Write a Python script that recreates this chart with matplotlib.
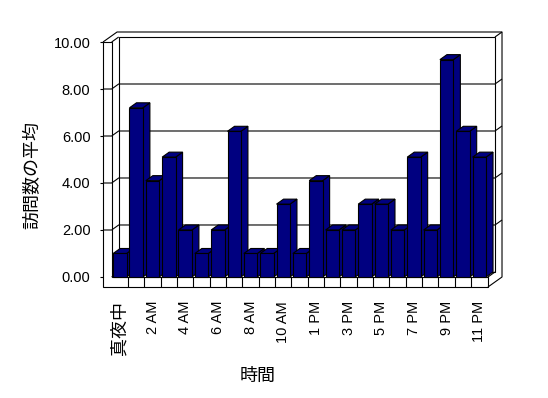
import matplotlib
matplotlib.use('Agg')
import matplotlib.pyplot as plt
from matplotlib.patches import Polygon
from matplotlib.ticker import FixedLocator
import numpy as np

# ---- data ----
hours = ['真夜中', '1 AM', '2 AM', '3 AM', '4 AM', '5 AM', '6 AM', '7 AM', '8 AM',
         '9 AM', '10 AM', '11 AM', '1 PM', '2 PM', '3 PM', '4 PM', '5 PM', '6 PM',
         '7 PM', '8 PM', '9 PM', '10 PM', '11 PM']
visits = [1.0, 7.2, 4.1, 5.1, 2.0, 1.0, 2.0, 6.2, 1.0, 1.0, 3.1, 1.0,
          4.1, 2.0, 2.0, 3.1, 3.1, 2.0, 5.1, 2.0, 9.25, 6.2, 5.1]
y_ticks = [0, 2, 4, 6, 8, 10]
y_tick_labels = ['0.00', '2.00', '4.00', '6.00', '8.00', '10.00']
x_title = '時間'
y_title = '訪問数の平均'

plt.rcParams['font.family'] = ['Liberation Sans', 'Noto Sans CJK JP']

# ---- style constants ----
DX, DY = 0.43, 0.213      # depth offset (data units)
WALL = 0.53               # left wall front thickness
FLOOR = 2 * DY            # floor front thickness
TOP = 10
HALF = 0.41
LW = 0.8
NAVY = '#000080'

n = len(hours)
xpos = np.arange(n)
x0 = -0.5
x1 = n - 0.5 + 0.03

fig = plt.figure(figsize=(5.48, 3.98), dpi=100)
ax = fig.add_axes([103 / 548, 111 / 398, 399.5 / 548, 255 / 398])
ax.set_xlim(x0 - WALL, x1 + 2 * DX + 0.03)
ax.set_ylim(-FLOOR, TOP + 2 * DY)
for s in ax.spines.values():
    s.set_visible(False)


def poly(pts, z, fc='white'):
    ax.add_patch(Polygon(pts, closed=True, fc=fc, ec='black', lw=LW, zorder=z,
                         joinstyle='miter', clip_on=False))


def line(xs, ys, z=2):
    ax.plot(xs, ys, color='black', lw=LW, zorder=z, solid_capstyle='butt',
            clip_on=False)


# inner back wall
poly([(x0 + DX, DY), (x1 + DX, DY), (x1 + DX, TOP + DY), (x0 + DX, TOP + DY)], 1)
# front L shape (left wall front + floor front)
poly([(x0 - WALL, -FLOOR), (x1, -FLOOR), (x1, 0), (x0, 0), (x0, TOP), (x0 - WALL, TOP)], 1)
# outer edges
line([x0 - WALL, x0 - WALL + 2 * DX, x1 + 2 * DX, x1 + 2 * DX, x1],
     [TOP, TOP + 2 * DY, TOP + 2 * DY, 0, -FLOOR])
line([x0, x0 + DX], [TOP, TOP + DY])
line([x1 + DX, x1 + 2 * DX], [TOP + DY, TOP + 2 * DY])
line([x0, x0 + DX], [0, DY])
line([x1, x1 + DX], [0, DY])
# gridlines
for v in y_ticks[1:-1]:
    line([x0 - WALL, x0, x0 + DX, x1 + DX, x1 + 2 * DX],
         [v, v, v + DY, v + DY, v + 2 * DY])

# bars
for i, (x, v) in enumerate(zip(xpos, visits)):
    z = 3 + i
    l, r = x - HALF, x + HALF
    poly([(r, 0), (r + DX, DY), (r + DX, v + DY), (r, v)], z, NAVY)
    poly([(l, v), (r, v), (r + DX, v + DY), (l + DX, v + DY)], z, NAVY)
    poly([(l, 0), (r, 0), (r, v), (l, v)], z, NAVY)

# axes ticks
ax.set_yticks(y_ticks)
ax.set_yticklabels(y_tick_labels)
ax.tick_params(axis='y', length=2, width=LW, direction='out', pad=7, labelsize=10.5)
ax.set_xticks(xpos[::2])
ax.set_xticklabels(hours[::2], rotation=90)
ax.tick_params(axis='x', which='major', length=0, pad=10, labelsize=10.5)
ax.xaxis.set_minor_locator(FixedLocator(xpos[1:] - 0.5))
ax.tick_params(axis='x', which='minor', length=7.2, width=LW, direction='in')
ax.get_xticklabels()[0].set_fontsize(13)

ax.set_xlabel(x_title, fontsize=13, va='center')
ax.xaxis.set_label_coords((258 - 103) / 399.5, (398 - 376.7 - 111) / 255)
ax.set_ylabel(y_title, fontsize=13, va='center')
ax.yaxis.set_label_coords((33 - 103) / 399.5, (398 - 175 - 111) / 255)

fig.savefig('out.png', dpi=100, facecolor='white')
